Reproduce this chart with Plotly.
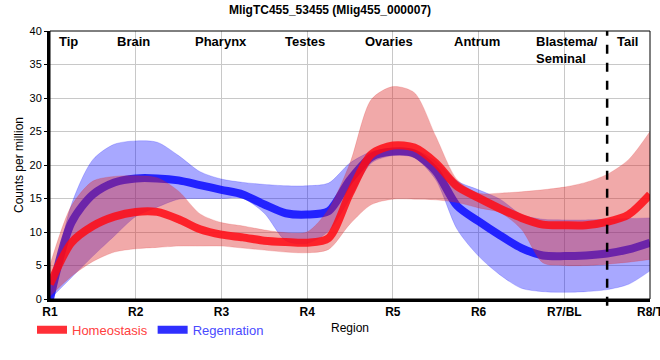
import plotly.graph_objects as go

# ---- data (read at quarter-region steps, R1 = 0 ... R8/T = 7) ----
x_pos = [0, 0.25, 0.5, 0.75, 1, 1.25, 1.5, 1.75, 2, 2.25, 2.5, 2.75, 3, 3.25, 3.5,
         3.75, 4, 4.25, 4.5, 4.75, 5, 5.25, 5.5, 5.75, 6, 6.25, 6.5, 6.75, 7]
tick_vals = [0, 1, 2, 3, 4, 5, 6, 7]
tick_labels = ["R1", "R2", "R3", "R4", "R5", "R6", "R7/BL", "R8/T"]

homeo_mean = [2.2, 8.4, 10.9, 12.3, 13.0, 13.0, 11.9, 10.4, 9.6, 9.2, 8.7, 8.5, 8.4, 9.1, 15.8,
              21.6, 22.9, 22.6, 20.3, 16.8, 15.1, 13.5, 12.1, 11.1, 11.0, 11.0, 11.5, 12.6, 15.6]
homeo_upper = [5.1, 13.9, 17.6, 18.3, 18.4, 18.1, 16.1, 12.7, 11.4, 10.9, 10.3, 9.9, 10.0, 13.4, 20.3,
               29.8, 31.7, 30.8, 24.3, 17.8, 15.8, 15.8, 16.0, 16.3, 16.7, 17.4, 18.6, 20.8, 25.0]
homeo_lower = [0.4, 3.4, 5.6, 7.0, 7.5, 7.7, 7.9, 7.9, 7.9, 7.6, 7.3, 7.0, 6.9, 7.4, 11.2,
               14.1, 14.9, 14.9, 14.8, 14.4, 13.6, 12.9, 10.4, 5.4, 5.0, 5.0, 5.2, 5.5, 5.9]

regen_mean = [0.0, 11.4, 15.6, 17.4, 18.0, 18.0, 17.7, 17.0, 16.3, 15.6, 14.1, 12.8, 12.6, 13.1, 17.8,
              21.2, 22.0, 21.7, 19.1, 13.9, 11.6, 9.5, 7.6, 6.5, 6.4, 6.5, 6.8, 7.4, 8.4]
regen_upper = [0.2, 14.1, 20.8, 23.1, 23.6, 23.4, 21.4, 19.0, 17.9, 17.4, 17.1, 16.9, 16.9, 17.3, 20.3,
               22.0, 22.5, 22.3, 20.6, 17.6, 16.3, 14.9, 12.6, 11.9, 11.8, 11.8, 11.9, 12.0, 12.1]
regen_lower = [0.0, 3.2, 6.4, 9.4, 12.3, 13.7, 14.9, 15.0, 15.0, 15.0, 12.8, 8.7, 8.3, 10.1, 15.0,
               20.3, 21.4, 21.1, 17.8, 10.4, 6.4, 3.6, 1.6, 1.1, 1.0, 1.1, 1.4, 2.2, 4.2]

region_names = ["Tip", "Brain", "Pharynx", "Testes", "Ovaries", "Antrum", "Blastema/<br>Seminal", "Tail"]
region_x = [0.22, 0.97, 1.99, 2.97, 3.95, 4.98, 5.65, 6.74]

FONT = "Liberation Sans, Arial, sans-serif"
SPL = dict(shape="spline", smoothing=0.8)

fig = go.Figure()

# Regeneration band
fig.add_trace(go.Scatter(x=x_pos, y=regen_upper, mode="lines", line=dict(color="rgba(0,0,255,0.3)", width=0.6, **SPL),
                         showlegend=False, hoverinfo="skip"))
fig.add_trace(go.Scatter(x=x_pos, y=regen_lower, mode="lines", line=dict(color="rgba(0,0,255,0.3)", width=0.6, **SPL),
                         fill="tonexty", fillcolor="rgba(0,0,255,0.34)", showlegend=False, hoverinfo="skip"))
# Regeneration line
fig.add_trace(go.Scatter(x=x_pos, y=regen_mean, mode="lines", name="<span style='color:#4a4aff'>Regenration</span>",
                         line=dict(color="rgba(10,10,255,0.85)", width=8, **SPL), legendrank=2))
# Homeostasis band
fig.add_trace(go.Scatter(x=x_pos, y=homeo_upper, mode="lines", line=dict(color="rgba(220,40,40,0.3)", width=0.6, **SPL),
                         showlegend=False, hoverinfo="skip"))
fig.add_trace(go.Scatter(x=x_pos, y=homeo_lower, mode="lines", line=dict(color="rgba(220,40,40,0.3)", width=0.6, **SPL),
                         fill="tonexty", fillcolor="rgba(220,40,40,0.4)", showlegend=False, hoverinfo="skip"))
# Homeostasis line
fig.add_trace(go.Scatter(x=x_pos, y=homeo_mean, mode="lines", name="<span style='color:#ff4040'>Homeostasis</span>",
                         line=dict(color="rgba(255,10,20,0.85)", width=8, **SPL), legendrank=1))

# dashed separator between R7 and R8
fig.add_shape(type="line", x0=6.5, x1=6.5, y0=-0.025, y1=1, xref="x", yref="paper",
              line=dict(color="black", width=2.5, dash="dash"))
# thin frame (top/right)
fig.add_shape(type="rect", x0=0, x1=1, y0=0, y1=1, xref="paper", yref="paper",
              line=dict(color="black", width=1))

for name, xv in zip(region_names, region_x):
    left = "Blastema" in name
    fig.add_annotation(x=xv, y=1, xref="x", yref="paper", text=f"<b>{name}</b>", showarrow=False,
                       xanchor="left" if left else "center", yanchor="top", yshift=-1, align="left",
                       font=dict(family=FONT, size=13, color="black"))

fig.update_layout(
    width=660, height=360,
    margin=dict(l=50, r=10, t=31, b=61, autoexpand=False),
    paper_bgcolor="white", plot_bgcolor="white",
    title=dict(text="<b>MligTC455_53455 (Mlig455_000007)</b>", x=0.5, xanchor="center", y=0.972, yanchor="middle",
               font=dict(family=FONT, size=12, color="black")),
    font=dict(family=FONT, size=11, color="black"),
    legend=dict(orientation="h", x=-0.03, y=-0.115, xanchor="left", yanchor="middle",
                font=dict(family=FONT, size=13), itemwidth=30, traceorder="normal",
                bgcolor="rgba(0,0,0,0)"),
    xaxis=dict(range=[0, 7], tickvals=tick_vals, ticktext=[f"<b>{t}</b>" for t in tick_labels],
               showgrid=True, gridcolor="#c8c8c8", gridwidth=1, zeroline=False, automargin=False,
               showline=True, linecolor="black", linewidth=3, ticks="", tickfont=dict(size=12),
               ticklabeloverflow="allow",
               title=dict(text="Region", font=dict(size=12), standoff=6)),
    yaxis=dict(range=[0, 40], tickvals=[0, 5, 10, 15, 20, 25, 30, 35, 40], automargin=False,
               showgrid=True, gridcolor="#c8c8c8", gridwidth=1, zeroline=False,
               showline=True, linecolor="black", linewidth=3, ticks="outside", ticklen=3, tickcolor="black",
               tickfont=dict(size=11), title=dict(text="Counts per million", font=dict(size=12), standoff=4)),
)

fig.write_html("out.html", config={"displayModeBar": False},
               post_script="document.body.style.margin='0px';")
